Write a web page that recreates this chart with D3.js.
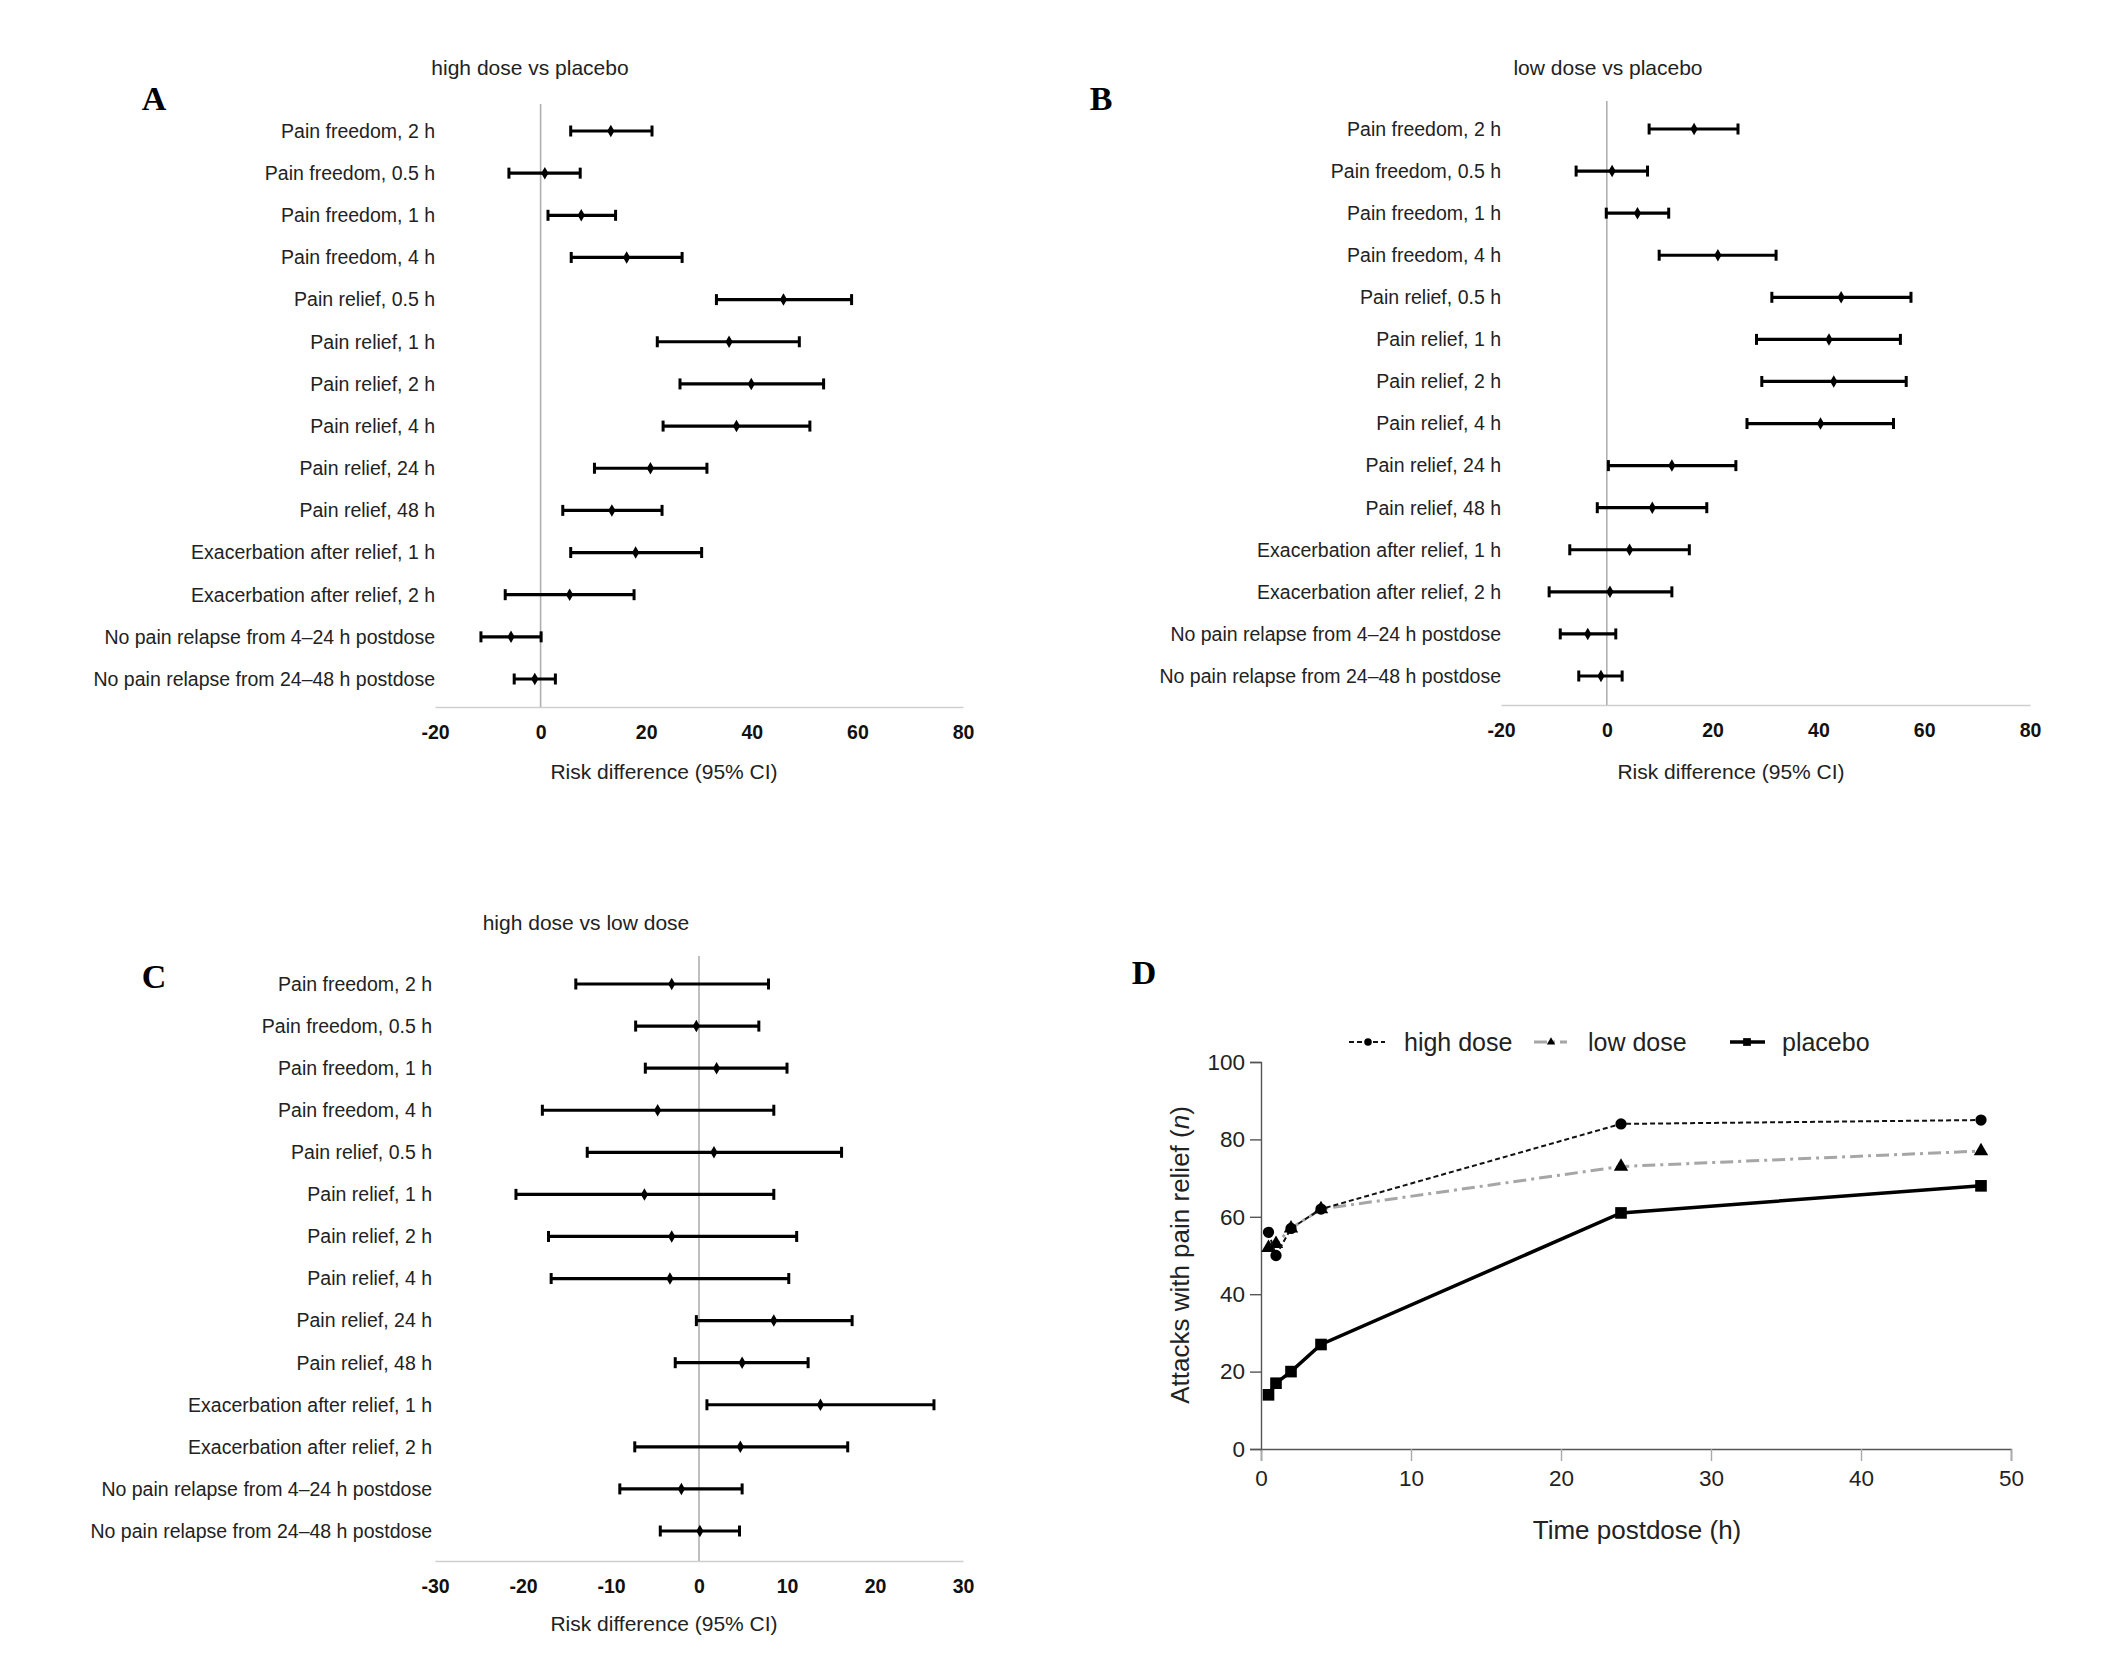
<!DOCTYPE html>
<html>
<head>
<meta charset="utf-8">
<style>
  body { margin: 0; background: #fff; }
  svg { font-family: "Liberation Sans", Arial, sans-serif; }
  .lbl { font-size: 19.5px; fill: #222; }
  .ttl { font-size: 21px; fill: #222; }
  .letter { font-family: "Liberation Serif", "Times New Roman", serif; font-weight: bold; font-size: 34px; fill: #000; }
</style>
<title>Risk differences and pain relief</title>
</head>
<body>
<script src="https://cdn.jsdelivr.net/npm/d3@7"></script>
<script>

// outcome rows of the three forest plots (top to bottom)
var outcomes = [
  "Pain freedom, 2 h", "Pain freedom, 0.5 h", "Pain freedom, 1 h", "Pain freedom, 4 h",
  "Pain relief, 0.5 h", "Pain relief, 1 h", "Pain relief, 2 h", "Pain relief, 4 h",
  "Pain relief, 24 h", "Pain relief, 48 h",
  "Exacerbation after relief, 1 h", "Exacerbation after relief, 2 h",
  "No pain relapse from 4\u201324 h postdose", "No pain relapse from 24\u201348 h postdose"
];

// [estimate, lower, upper] risk differences
var highVsPlacebo = [
  [13.3, 5.7, 21.1], [0.8, -6.0, 7.5], [7.7, 1.4, 14.2], [16.3, 5.8, 26.8],
  [46.0, 33.3, 58.9], [35.7, 22.1, 49.0], [39.9, 26.4, 53.6], [37.1, 23.2, 51.0],
  [20.8, 10.2, 31.5], [13.5, 4.2, 23.0],
  [18.0, 5.7, 30.5], [5.5, -6.7, 17.7],
  [-5.6, -11.3, 0.1], [-1.1, -5.0, 2.8]
];
var lowVsPlacebo = [
  [16.5, 8.0, 24.8], [1.0, -5.8, 7.7], [5.8, -0.1, 11.7], [21.0, 9.9, 32.0],
  [44.3, 31.2, 57.5], [42.0, 28.3, 55.5], [42.9, 29.3, 56.6], [40.4, 26.5, 54.2],
  [12.3, 0.3, 24.4], [8.6, -1.8, 18.9],
  [4.3, -7.0, 15.6], [0.6, -10.9, 12.3],
  [-3.6, -8.8, 1.7], [-1.1, -5.3, 2.9]
];
var highVsLow = [
  [-3.1, -14.0, 7.9], [-0.3, -7.2, 6.8], [2.0, -6.1, 10.0], [-4.7, -17.8, 8.5],
  [1.7, -12.7, 16.2], [-6.2, -20.8, 8.5], [-3.1, -17.1, 11.1], [-3.3, -16.8, 10.2],
  [8.5, -0.3, 17.4], [4.9, -2.7, 12.4],
  [13.8, 0.9, 26.7], [4.7, -7.3, 16.9],
  [-2.0, -9.0, 4.9], [0.1, -4.4, 4.6]
];
var ticksAB = [-20, 0, 20, 40, 60, 80];
var ticksC = [-30, -20, -10, 0, 10, 20, 30];

// panel D: attacks with pain relief over time
var hours = [0.5, 1, 2, 4, 24, 48];
var highDose = [56, 50, 57, 62, 84, 85];
var lowDose = [52, 53, 57, 62, 73, 77];
var placebo = [14, 17, 20, 27, 61, 68];
var ticksTime = [0, 10, 20, 30, 40, 50];
var ticksAttacks = [0, 20, 40, 60, 80, 100];

var svg = d3.select("body").append("svg")
  .attr("width", 2106)
  .attr("height", 1659);

function forest(p) {
  var g = svg.append("g");
  var x = d3.scaleLinear().domain(p.domain).range([p.x0, p.x1]);
  var y = d3.scalePoint().domain(outcomes).range([p.yTop, p.yBot]);

  g.append("text").attr("class", "ttl")
    .attr("x", p.titleX).attr("y", p.titleY)
    .attr("text-anchor", "middle").attr("dy", "0.35em")
    .text(p.title);

  g.append("text").attr("class", "letter")
    .attr("x", p.letterX).attr("y", p.letterY)
    .attr("text-anchor", "middle").attr("dy", "0.35em")
    .text(p.letter);

  // axis (plain hyphen for negatives, as in the original)
  var ax = g.append("g")
    .attr("transform", `translate(0,${p.axisY})`)
    .call(d3.axisBottom(x).tickValues(p.ticks).tickSize(0).tickPadding(18).tickFormat(d => String(d)));
  ax.select(".domain").attr("stroke", "#cfcfcf").attr("stroke-width", 1.5);
  ax.selectAll("text")
    .attr("font-size", 19.5).attr("font-weight", "bold")
    .attr("font-family", "Liberation Sans, Arial, sans-serif").attr("fill", "#111");

  g.append("text").attr("class", "ttl")
    .attr("x", p.axisTitleX).attr("y", p.axisTitleY)
    .attr("text-anchor", "middle").attr("dy", "0.35em")
    .attr("font-size", 21.5)
    .text("Risk difference (95% CI)");

  // zero line
  g.append("line")
    .attr("x1", x(0)).attr("x2", x(0))
    .attr("y1", p.zeroTop).attr("y2", p.axisY)
    .attr("stroke", "#b0b0b0").attr("stroke-width", 1.6);

  // row labels
  g.selectAll(".lbl").data(outcomes).enter().append("text")
    .attr("class", "lbl")
    .attr("x", p.x0 + p.labelShift)
    .attr("y", d => y(d))
    .attr("dy", "0.35em")
    .attr("text-anchor", "end")
    .text(d => d);

  var rows = g.selectAll(".row").data(p.data).enter().append("g")
    .attr("transform", (d, i) => `translate(0,${y(outcomes[i])})`);

  rows.append("line")
    .attr("x1", d => x(d[1])).attr("x2", d => x(d[2]))
    .attr("stroke", "#000").attr("stroke-width", 3.2);
  rows.append("line")
    .attr("x1", d => x(d[1])).attr("x2", d => x(d[1]))
    .attr("y1", -5.5).attr("y2", 5.5)
    .attr("stroke", "#000").attr("stroke-width", 3);
  rows.append("line")
    .attr("x1", d => x(d[2])).attr("x2", d => x(d[2]))
    .attr("y1", -5.5).attr("y2", 5.5)
    .attr("stroke", "#000").attr("stroke-width", 3);
  rows.append("path")
    .attr("d", d3.symbol(d3.symbolDiamond, 45))
    .attr("transform", d => `translate(${x(d[0])},0)`)
    .attr("fill", "#000");
}

forest({
  data: highVsPlacebo, domain: [-20, 80], ticks: ticksAB,
  x0: 435, x1: 963, yTop: 131, yBot: 679, axisY: 707, zeroTop: 104,
  title: "high dose vs placebo", titleX: 530, titleY: 68,
  letter: "A", letterX: 154, letterY: 98,
  axisTitleX: 664, axisTitleY: 772, labelShift: 0
});
forest({
  data: lowVsPlacebo, domain: [-20, 80], ticks: ticksAB,
  x0: 1501, x1: 2030, yTop: 129, yBot: 676, axisY: 705, zeroTop: 101,
  title: "low dose vs placebo", titleX: 1608, titleY: 68,
  letter: "B", letterX: 1101, letterY: 98,
  axisTitleX: 1731, axisTitleY: 772, labelShift: 0
});
forest({
  data: highVsLow, domain: [-30, 30], ticks: ticksC,
  x0: 435, x1: 963, yTop: 984, yBot: 1531, axisY: 1561, zeroTop: 956,
  title: "high dose vs low dose", titleX: 586, titleY: 923,
  letter: "C", letterX: 154, letterY: 976,
  axisTitleX: 664, axisTitleY: 1624, labelShift: -3
});

// ---- panel D ----
var gd = svg.append("g");
var xt = d3.scaleLinear().domain([0, 50]).range([1261, 2011]);
var ya = d3.scaleLinear().domain([0, 100]).range([1449, 1062]);

gd.append("text").attr("class", "letter")
  .attr("x", 1144).attr("y", 972).attr("text-anchor", "middle").attr("dy", "0.35em")
  .text("D");

var xAx = gd.append("g")
  .attr("transform", `translate(0,${ya(0)})`)
  .call(d3.axisBottom(xt).tickValues(ticksTime).tickSize(12).tickPadding(9));
xAx.select(".domain").attr("stroke", "#555").attr("stroke-width", 1.4);
xAx.selectAll(".tick line").attr("stroke", "#aaa").attr("stroke-width", 1.4);
xAx.selectAll("text").attr("font-size", 22.5).attr("fill", "#222")
  .attr("font-family", "Liberation Sans, Arial, sans-serif");

var yAx = gd.append("g")
  .attr("transform", `translate(${xt(0)},0)`)
  .call(d3.axisLeft(ya).tickValues(ticksAttacks).tickSize(11).tickPadding(5));
yAx.select(".domain").attr("stroke", "#555").attr("stroke-width", 1.4);
yAx.selectAll(".tick line").attr("stroke", "#555").attr("stroke-width", 1.4);
yAx.selectAll("text").attr("font-size", 22.5).attr("fill", "#222")
  .attr("font-family", "Liberation Sans, Arial, sans-serif");

gd.append("text")
  .attr("x", 1637).attr("y", 1530).attr("dy", "0.35em")
  .attr("text-anchor", "middle").attr("font-size", 26).attr("fill", "#222")
  .text("Time postdose (h)");

var yt = gd.append("text")
  .attr("transform", "translate(1180,1255) rotate(-90)")
  .attr("dy", "0.35em")
  .attr("text-anchor", "middle").attr("font-size", 26).attr("fill", "#222");
yt.append("tspan").text("Attacks with pain relief (");
yt.append("tspan").attr("font-style", "italic").text("n");
yt.append("tspan").text(")");

var line = d3.line().x(d => xt(d[0])).y(d => ya(d[1]));

var series = [
  { name: "placebo", vals: placebo, color: "#000", width: 3.5, dash: null, sym: d3.symbolSquare, size: 135, legSize: 60,
    lx0: 1730, lx1: 1765, mx: 1747, tx: 1782 },
  { name: "low dose", vals: lowDose, color: "#a6a6a6", width: 3, dash: "13,5,3,5", sym: d3.symbolTriangle, size: 90, legSize: 30,
    lx0: 1534, lx1: 1567, mx: 1551, tx: 1588 },
  { name: "high dose", vals: highDose, color: "#111", width: 2, dash: "5,3", sym: d3.symbolCircle, size: 100, legSize: 45,
    lx0: 1349, lx1: 1385, mx: 1368, tx: 1404 }
];

series.forEach(function(s) {
  var pts = hours.map((h, i) => [h, s.vals[i]]);
  gd.append("path")
    .datum(pts)
    .attr("d", line)
    .attr("fill", "none")
    .attr("stroke", s.color)
    .attr("stroke-width", s.width)
    .attr("stroke-dasharray", s.dash);
  gd.selectAll(null).data(pts).enter().append("path")
    .attr("d", d3.symbol(s.sym, s.size))
    .attr("transform", d => `translate(${xt(d[0])},${ya(d[1])})`)
    .attr("fill", "#000");

  // legend entry
  var ly = 1042;
  gd.append("line")
    .attr("x1", s.lx0).attr("x2", s.lx1).attr("y1", ly).attr("y2", ly)
    .attr("stroke", s.color).attr("stroke-width", s.width)
    .attr("stroke-dasharray", s.dash);
  gd.append("path")
    .attr("d", d3.symbol(s.sym, s.legSize))
    .attr("transform", `translate(${s.mx},${ly})`)
    .attr("fill", "#000");
  gd.append("text")
    .attr("x", s.tx).attr("y", ly).attr("dy", "0.35em")
    .attr("font-size", 25).attr("fill", "#222")
    .text(s.name);
});

</script>
</body>
</html>
